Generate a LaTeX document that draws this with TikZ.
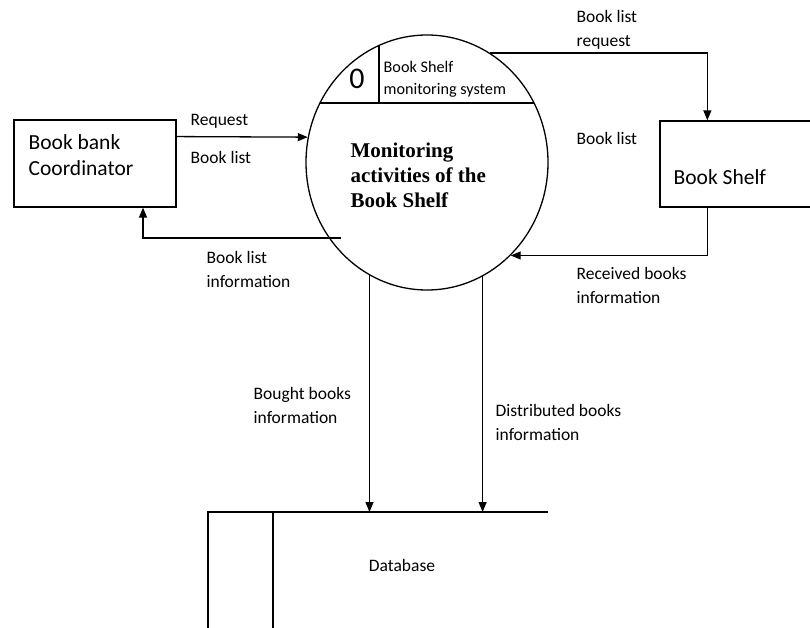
\documentclass[tikz,border=0pt]{standalone}
\usepackage{fontspec}
\setmainfont{Carlito}
\newfontfamily\serifbold{Liberation Serif}[BoldFont={Liberation Serif Bold}]
\usetikzlibrary{shapes.geometric,arrows.meta,calc}
\begin{document}
\begin{tikzpicture}[x=1pt,y=-1pt,
  line width=1.3pt,
  arr/.style={-{Triangle[length=10pt,width=8pt]}},
  lbl/.style={anchor=west,align=left,inner sep=0pt,font=\fontsize{17.5}{24}\selectfont},
  ent/.style={draw,rectangle,inner sep=0pt,fill=white},
  enttext/.style={anchor=west,align=left,inner sep=0pt,font=\fontsize{21.5}{26}\selectfont},
  proc/.style={draw,ellipse,inner sep=0pt,minimum width=242pt,minimum height=255pt}]
\useasboundingbox (0,0) rectangle (810,628);

% process
\node[proc] (P) at (427,162.5) {};
\draw ($(P.center)+(-107,-59.5)$) -- ($(P.center)+(107,-59.5)$);
\draw ($(P.center)+(-48,-117)$) -- ($(P.center)+(-48,-59.5)$);
\node[inner sep=0pt,font=\fontsize{30}{30}\selectfont] (Pnum) at (357,79) {0};
\node[anchor=west,align=left,inner sep=0pt,font=\fontsize{16.2}{22}\selectfont] (Ptitle) at (383,79) {Book Shelf\\monitoring system};
\node[anchor=west,align=left,inner sep=0pt,font=\serifbold\bfseries\fontsize{21}{25}\selectfont] (Ptext) at (350,175) {Monitoring\\activities of the\\Book Shelf};

% entities
\node[ent,minimum width=162pt,minimum height=87pt] (BB) at (95,163.5) {};
\node[enttext] (BBt) at (28,155) {Book bank\\Coordinator};
\node[ent,minimum width=152pt,minimum height=86pt] (BS) at (736,164) {};
\node[enttext] (BSt) at (673,177) {Book Shelf};

% data store
\coordinate (DBtl) at (208,512);
\coordinate (DBtr) at (548,512);
\coordinate (DBbl) at (208,632);
\coordinate (DBit) at (273,512);
\coordinate (DBib) at (273,632);
\draw (DBtr) -- (DBtl) -- (DBbl);
\draw (DBit) -- (DBib);
\node[lbl,anchor=center] (DB) at (402,565) {Database};

% flows
\draw[arr] ($(BB.north east)!0.195!(BB.south east)$) -- (P.168);
\draw[arr] ($(P.center)+(-86,75.5)$) -| ($(BB.south)+(48,0)$);
\draw[arr] (P.60) -| ($(BS.north west)+(48,0)$);
\draw[arr] ($(BS.south west)+(48,0)$) |- (P.-48);
\draw[arr] (P.243) -- (P.243 |- DBtl);
\draw[arr] (P.-64) -- (P.-64 |- DBtl);

% labels
\node[lbl] (l1) at (190,121) {Request};
\node[lbl] (l2) at (190,157) {Book list};
\node[lbl] (l3) at (206,269) {Book list\\information};
\node[lbl] (l4) at (576,30) {Book list\\request};
\node[lbl] (l5) at (576,138) {Book list};
\node[lbl] (l6) at (576,285) {Received books\\information};
\node[lbl] (l7) at (253,405) {Bought books\\information};
\node[lbl] (l8) at (495,422) {Distributed books\\information};
\end{tikzpicture}
\end{document}
